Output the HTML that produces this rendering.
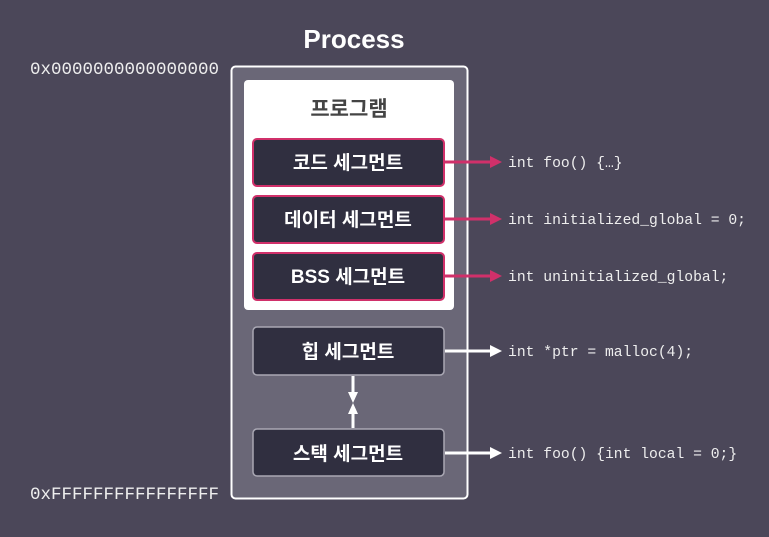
<!DOCTYPE html>
<html><head><meta charset="utf-8"><style>
body{margin:0;width:769px;height:532px;background:#4b4759;overflow:hidden;font-family:"Liberation Sans","Noto Sans CJK KR",sans-serif}
</style></head><body>
<svg width="769" height="532" xmlns="http://www.w3.org/2000/svg">
<rect x="0" y="0" width="769" height="532" fill="#4b4759"/>
<text x="354" y="48" text-anchor="middle" font-family="Liberation Sans,Noto Sans CJK KR,sans-serif" font-weight="bold" font-size="26" fill="#fff">Process</text>
<g font-family="Liberation Mono,monospace" font-size="17.5" fill="#eee">
<text x="30" y="74">0x0000000000000000</text>
<text x="30" y="499">0xFFFFFFFFFFFFFFFF</text>
</g>
<rect x="231.5" y="66.5" width="236" height="432" rx="4" fill="#6a6777" stroke="#fff" stroke-width="2"/>
<rect x="244" y="80" width="210" height="230" rx="4" fill="#fff"/>
<text x="349" y="116" text-anchor="middle" font-family="Noto Sans CJK KR,sans-serif" font-weight="bold" font-size="21" fill="#444">프로그램</text>
<g font-family="Liberation Sans,Noto Sans CJK KR,sans-serif" font-weight="bold" font-size="19" fill="#fff" text-anchor="middle">
<rect x="253" y="139" width="191" height="47" rx="4" fill="#302f40" stroke="#d0306a" stroke-width="2"/>
<text x="348" y="169">코드 세그먼트</text>
<rect x="253" y="196" width="191" height="47" rx="4" fill="#302f40" stroke="#d0306a" stroke-width="2"/>
<text x="348" y="226">데이터 세그먼트</text>
<rect x="253" y="253" width="191" height="47" rx="4" fill="#302f40" stroke="#d0306a" stroke-width="2"/>
<text x="348" y="283">BSS 세그먼트</text>
<rect x="253" y="327" width="191" height="48" rx="4" fill="#302f40" stroke="#a9a7b3" stroke-width="1.5"/>
<text x="348" y="358">힙 세그먼트</text>
<rect x="253" y="429" width="191" height="47" rx="4" fill="#302f40" stroke="#a9a7b3" stroke-width="1.5"/>
<text x="348" y="460">스택 세그먼트</text>
</g>
<g stroke-width="3">
<line x1="445" y1="162" x2="492" y2="162" stroke="#d0306a"/><polygon points="490,156 502,162 490,168" fill="#d0306a"/>
<line x1="445" y1="219" x2="492" y2="219" stroke="#d0306a"/><polygon points="490,213 502,219 490,225" fill="#d0306a"/>
<line x1="445" y1="276" x2="492" y2="276" stroke="#d0306a"/><polygon points="490,270 502,276 490,282" fill="#d0306a"/>
<line x1="445" y1="351" x2="492" y2="351" stroke="#fff"/><polygon points="490,345 502,351 490,357" fill="#fff"/>
<line x1="445" y1="453" x2="492" y2="453" stroke="#fff"/><polygon points="490,447 502,453 490,459" fill="#fff"/>
<line x1="353" y1="376" x2="353" y2="393" stroke="#fff"/><polygon points="348,392 353,403 358,392" fill="#fff"/>
<line x1="353" y1="428" x2="353" y2="412" stroke="#fff"/><polygon points="348,414 353,403 358,414" fill="#fff"/>
</g>
<g font-family="Liberation Mono,monospace" font-size="14.7" fill="#eee">
<text x="508" y="167">int foo() {…}</text>
<text x="508" y="224">int initialized_global = 0;</text>
<text x="508" y="281">int uninitialized_global;</text>
<text x="508" y="356">int *ptr = malloc(4);</text>
<text x="508" y="458">int foo() {int local = 0;}</text>
</g>
</svg>
</body></html>
